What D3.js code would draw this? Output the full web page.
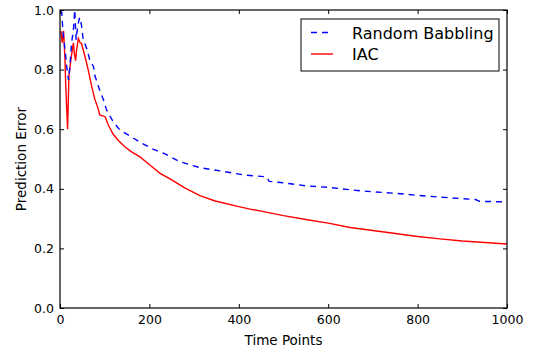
<!DOCTYPE html>
<html><head><meta charset="utf-8">
<script src="https://cdn.jsdelivr.net/npm/d3@7"></script>
<style>body{margin:0;background:#fff}svg{display:block}text{font-family:"DejaVu Sans",sans-serif;fill:#000}</style>
</head><body>
<svg id="c" width="533" height="350"></svg>
<script>
const babblingT = [2,4,7,11,15,19,22,26,30,33,36,40,44,48,52,60,67,75,78,89,97,104,119,134,157,179,208,235,268,313,358,414,440,462,468,500,550,600,660,700,750,800,850,900,930,938,1000];
const babblingE = [1.0,0.99,0.92,0.87,0.81,0.765,0.81,0.89,0.935,1.0,0.9,0.95,0.975,0.95,0.9,0.87,0.83,0.81,0.78,0.73,0.70,0.665,0.625,0.597,0.577,0.556,0.533,0.517,0.491,0.471,0.46,0.446,0.443,0.44,0.425,0.42,0.41,0.405,0.395,0.39,0.385,0.378,0.372,0.367,0.364,0.358,0.356];
const iacT = [2,5,8,11,13,17,20,25,30,32,35,37,41,45,48,56,63,71,78,84,89,101,108,119,130,145,161,179,201,224,246,280,313,347,400,425,450,500,550,600,649,700,750,800,850,900,950,1000];
const iacE = [0.93,0.89,0.93,0.84,0.74,0.60,0.78,0.84,0.89,0.855,0.83,0.865,0.905,0.89,0.888,0.843,0.80,0.743,0.70,0.675,0.648,0.642,0.614,0.583,0.563,0.541,0.523,0.507,0.48,0.452,0.433,0.402,0.377,0.359,0.34,0.332,0.325,0.31,0.297,0.285,0.27,0.26,0.25,0.24,0.232,0.225,0.22,0.215];
const xTicks = [0,200,400,600,800,1000];
const yTicks = [0.0,0.2,0.4,0.6,0.8,1.0];
const seriesNames = ["Random Babbling","IAC"];

const L=60,R=507,T=10,B=308;
const svg=d3.select("#c");
const x=d3.scaleLinear().domain([0,1000]).range([L,R]);
const y=d3.scaleLinear().domain([0,1]).range([B,T]);

svg.append("clipPath").attr("id","clip").append("rect").attr("x",L).attr("y",T).attr("width",R-L).attr("height",B-T);

const line=d3.line().x(d=>x(d[0])).y(d=>y(d[1]));
const g=svg.append("g").attr("clip-path","url(#clip)");
g.append("path").datum(iacT.map((t,i)=>[t,iacE[i]])).attr("d",line).attr("fill","none").attr("stroke","#ff0000").attr("stroke-width",1.4);
g.append("path").datum(babblingT.map((t,i)=>[t,babblingE[i]])).attr("d",line).attr("fill","none").attr("stroke","#0000ff").attr("stroke-width",1.4).attr("stroke-dasharray","6,5");

const fmtY=d3.format(".1f");
const axB=svg.append("g").attr("transform",`translate(0,${B})`).call(d3.axisBottom(x).tickValues(xTicks).tickSize(-4).tickPadding(7).tickFormat(d3.format("d")));
const axT=svg.append("g").attr("transform",`translate(0,${T})`).call(d3.axisTop(x).tickValues(xTicks).tickSize(-4).tickFormat(""));
const axL=svg.append("g").attr("transform",`translate(${L},0)`).call(d3.axisLeft(y).tickValues(yTicks).tickSize(-4).tickPadding(6).tickFormat(fmtY));
const axR=svg.append("g").attr("transform",`translate(${R},0)`).call(d3.axisRight(y).tickValues(yTicks).tickSize(-4).tickFormat(""));
[axB,axT,axL,axR].forEach(a=>{a.select(".domain").remove();a.selectAll("line").attr("stroke","#000").attr("stroke-width",1);a.selectAll("text").style("font-size","12.5px").style("font-family","DejaVu Sans");});
svg.append("rect").attr("x",L).attr("y",T).attr("width",R-L).attr("height",B-T).attr("fill","none").attr("stroke","#000").attr("stroke-width",1.2);

svg.append("text").attr("x",(L+R)/2).attr("y",345).attr("text-anchor","middle").style("font-size","13.5px").text("Time Points");
svg.append("text").attr("transform",`translate(26,${(T+B)/2}) rotate(-90)`).attr("text-anchor","middle").style("font-size","13.5px").text("Prediction Error");

const lg=svg.append("g");
lg.append("rect").attr("x",301).attr("y",19).attr("width",198).attr("height",52).attr("fill","#fff").attr("stroke","#000").attr("stroke-width",1);
const lcol=["#0000ff","#ff0000"],ldash=["6,5",null];
seriesNames.forEach((n,i)=>{
  const yy=32.5+i*21.5;
  lg.append("line").attr("x1",311).attr("x2",333).attr("y1",yy).attr("y2",yy).attr("stroke",lcol[i]).attr("stroke-width",1.4).attr("stroke-dasharray",ldash[i]);
  lg.append("text").attr("x",352).attr("y",yy+6).style("font-size","16px").text(n);
});
</script>
</body></html>
